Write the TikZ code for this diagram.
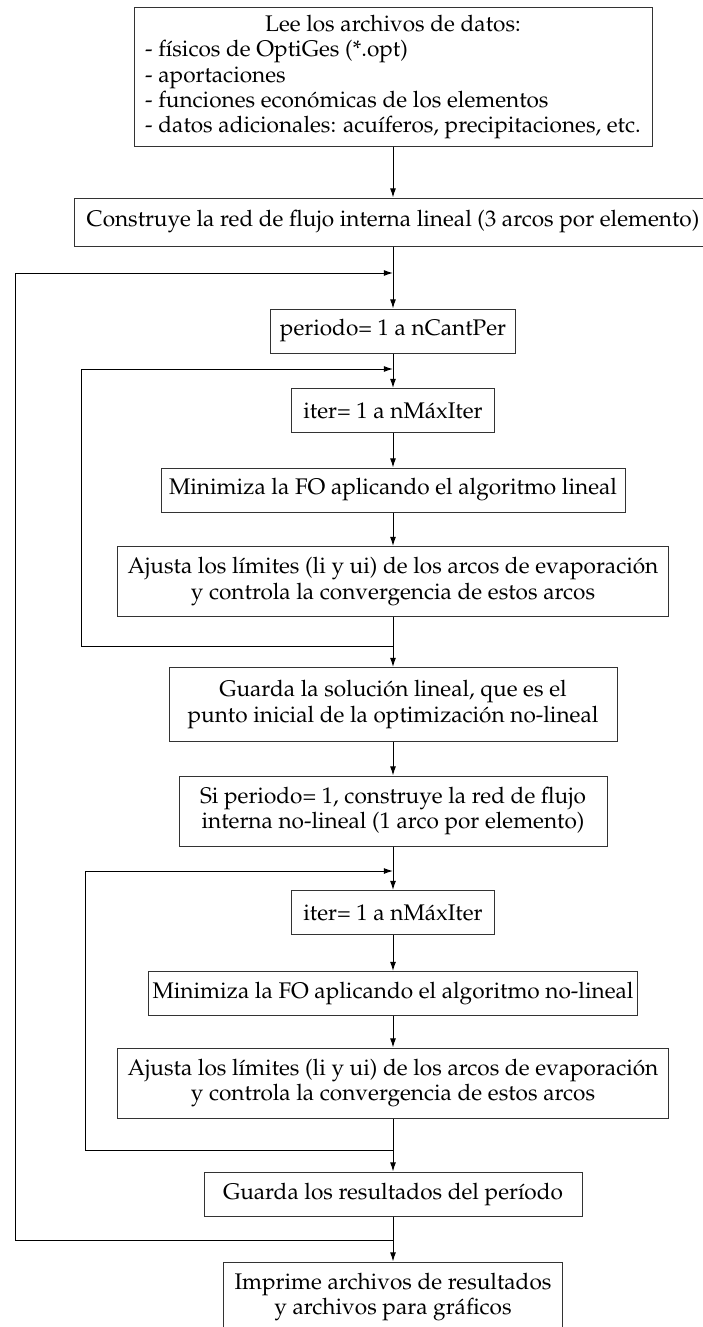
\documentclass[tikz,border=0pt]{standalone}
\usepackage[T1]{fontenc}
\usepackage{mathpazo}
\usepackage{tikz}
\usetikzlibrary{positioning, arrows.meta}

\begin{document}
\begin{tikzpicture}[
  x=0.5pt, y=-0.5pt,
  caja/.style={draw=black!80, line width=0.5pt, fill=white, align=center, inner sep=2pt,
    font=\fontsize{11.3}{12.6}\selectfont, minimum height=22pt},
  caja2/.style={caja, minimum height=35pt},
  flecha/.style={line width=0.5pt, -{Latex[length=4.6pt,width=3pt]}},
  linea/.style={line width=0.5pt}
]
  \useasboundingbox (0,0) rectangle (702,1327);

  % cajas del diagrama
  \node[caja, minimum height=69pt, minimum width=259pt] (leer) at (393,77)
    {\begin{tabular}{@{}l@{}}
      \multicolumn{1}{@{}c@{}}{Lee los archivos de datos:}\\
      - f\'{\i}sicos de OptiGes (*.opt)\\
      - aportaciones\\
      - funciones econ\'omicas de los elementos\\
      - datos adicionales: acu\'{\i}feros, precipitaciones, etc.
    \end{tabular}};
  \node[caja, minimum height=24pt, minimum width=325pt] (construye) at (399,222)
    {\hspace*{-6pt}Construye la red de flujo interna lineal (3 arcos por elemento)};
  \node[caja, minimum width=122.5pt] (periodo) at (393,331) {periodo= 1 a nCantPer};
  \node[caja, minimum width=101.5pt] (iterA) at (393,410.5) {iter= 1 a nM\'axIter};
  \node[caja, minimum width=232pt] (minA) at (393,490)
    {Minimiza la FO aplicando el algoritmo lineal};
  \node[caja2, minimum width=275.5pt] (ajustaA) at (393,581.5)
    {Ajusta los l\'{\i}mites (li y ui) de los arcos de evaporaci\'on\\
     y controla la convergencia de estos arcos};
  \node[caja2, minimum width=224pt, minimum height=37pt] (guardaLin) at (393,704.5)
    {Guarda la soluci\'on lineal, que es el\\
     punto inicial de la optimizaci\'on no-lineal};
  \node[caja2, minimum width=214pt] (construyeNL) at (393,811)
    {Si periodo= 1, construye la red de flujo\\
     interna no-lineal (1 arco por elemento)};
  \node[caja, minimum width=101.5pt] (iterB) at (393,912.5) {iter= 1 a nM\'axIter};
  \node[caja, minimum width=244pt] (minB) at (393,993.5)
    {Minimiza la FO aplicando el algoritmo no-lineal};
  \node[caja2, minimum width=275.5pt] (ajustaB) at (393,1083)
    {Ajusta los l\'{\i}mites (li y ui) de los arcos de evaporaci\'on\\
     y controla la convergencia de estos arcos};
  \node[caja, minimum width=189pt] (guardaRes) at (393,1194)
    {Guarda los resultados del per\'{\i}odo};
  \node[caja2, minimum width=169.5pt] (imprime) at (393,1297)
    {Imprime archivos de resultados\\
     y archivos para gr\'aficos};

  % puntos de entrada y retorno de los bucles
  \coordinate (entPer) at (393,273);
  \coordinate (retPer) at (393,1240);
  \coordinate (entIterA) at (393,369);
  \coordinate (retIterA) at (393,646);
  \coordinate (entIterB) at (393,871);
  \coordinate (retIterB) at (393,1150);

  % flujo principal
  \draw[flecha] (leer) -- (leer |- construye.north);
  \draw[flecha] (leer |- construye.south) -- (periodo);
  \draw[flecha] (periodo) -- (iterA);
  \draw[flecha] (iterA) -- (minA);
  \draw[flecha] (minA) -- (ajustaA);
  \draw[flecha] (ajustaA) -- (guardaLin);
  \draw[flecha] (guardaLin) -- (construyeNL);
  \draw[flecha] (construyeNL) -- (iterB);
  \draw[flecha] (iterB) -- (minB);
  \draw[flecha] (minB) -- (ajustaB);
  \draw[flecha] (ajustaB) -- (guardaRes);
  \draw[flecha] (guardaRes) -- (imprime);

  % bucles
  \draw[flecha] (retPer) -- ++(-378,0) |- (entPer);
  \draw[flecha] (retIterA) -- ++(-312,0) |- (entIterA);
  \draw[flecha] (retIterB) -- ++(-308,0) |- (entIterB);
\end{tikzpicture}
\end{document}
